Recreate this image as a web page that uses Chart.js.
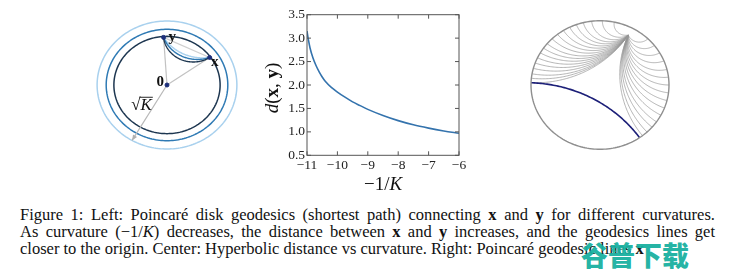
<!DOCTYPE html>
<html><head><meta charset="utf-8">
<script src="https://cdn.jsdelivr.net/npm/chart.js@4.4.1/dist/chart.umd.min.js"></script>
<style>
html,body{margin:0;padding:0;background:#fff;}
#page{position:relative;width:740px;height:278px;overflow:hidden;background:#fff;}
canvas{position:absolute;}
.cap{position:absolute;left:20px;width:695px;font-family:'Liberation Serif','Times New Roman',serif;font-size:16.5px;line-height:17px;color:#111;white-space:nowrap;}
.just{text-align:justify;text-align-last:justify;white-space:normal;}
.wm{position:absolute;left:581px;top:240px;font-family:'Noto Sans CJK SC',sans-serif;font-weight:900;font-size:27px;line-height:30px;color:rgba(24,176,160,0.95);}
</style></head>
<body><div id="page">
<canvas id="left" width="180" height="170" style="left:77px;top:0px"></canvas>
<canvas id="center" width="215" height="197" style="left:255px;top:0px"></canvas>
<canvas id="right" width="180" height="170" style="left:510px;top:0px"></canvas>
<div class="cap just" style="top:206px">Figure 1: Left: Poincaré disk geodesics (shortest path) connecting <b>x</b> and <b>y</b> for different curvatures.</div>
<div class="cap just" style="top:223px">As curvature (−1/<i>K</i>) decreases, the distance between <b>x</b> and <b>y</b> increases, and the geodesics lines get</div>
<div class="cap" style="top:240px">closer to the origin. Center: Hyperbolic distance vs curvature. Right: Poincaré geodesic lines <b>x</b></div>
<div class="wm">谷普下载</div>
</div>
<script>
// ===== Center panel data =====
const negInvK  = [-11, -10.95, -10.9, -10.8, -10.7, -10.6, -10.5, -10.4, -10.2, -10, -9.75, -9.5, -9.25, -9, -8.5, -8, -7.5, -7, -6.5, -6];
const distance = [3.15, 2.95, 2.79, 2.57, 2.41, 2.28, 2.17, 2.08, 1.95, 1.85, 1.74, 1.64, 1.56, 1.48, 1.35, 1.24, 1.15, 1.08, 1.02, 0.97];
const xTickValues = [-11, -10, -9, -8, -7, -6];
const yTickValues = [0.5, 1.0, 1.5, 2.0, 2.5, 3.0, 3.5];

// ===== Left panel data (disk units) =====
const diskRadii   = [0.76, 0.87, 1.0];         // sqrt(K) for three curvatures
const markLabels  = ['x', 'y', '0'];
const markX       = [0.61, -0.049, 0];
const markY       = [0.43, 0.744, 0];
const sqrtKAngle  = 240;                        // direction of the sqrt(K) radius arrow (deg)

// ===== Right panel data (disk units) =====
const sourcePoint = [0.41, 0.777];
const rayEndAngles = [178, 174, 170, 165, 160, 155, 150, 145, 140, 134, 128, 122, 116, 110, 104, 97, 88, 78,
                      46, 38, 30, 22, 14, 7, 0, -7, -14, -21, -28, -35, -41, -47, -52];
const highlightEnds = [178, -55];

const SERIF = "'Liberation Serif','Times New Roman',serif";
const diskColors = ['#1d3650', '#2f7ab4', '#a9d1ee'];

// ---------- helpers ----------
const TAU = Math.PI * 2, mod = v => ((v % TAU) + TAU) % TAU, rad = d => d * Math.PI / 180;
function circ3(a, b, c) {
  const d = 2 * (a[0]*(b[1]-c[1]) + b[0]*(c[1]-a[1]) + c[0]*(a[1]-b[1]));
  if (Math.abs(d) < 1e-10) return null;
  const a2 = a[0]*a[0]+a[1]*a[1], b2 = b[0]*b[0]+b[1]*b[1], c2 = c[0]*c[0]+c[1]*c[1];
  const ux = (a2*(b[1]-c[1]) + b2*(c[1]-a[1]) + c2*(a[1]-b[1])) / d;
  const uy = (a2*(c[0]-b[0]) + b2*(a[0]-c[0]) + c2*(b[0]-a[0])) / d;
  return {x: ux, y: uy, r: Math.hypot(a[0]-ux, a[1]-uy)};
}
function geodesic(p, q, R) {
  const n = p[0]*p[0] + p[1]*p[1];
  if (n < 1e-9) return [p, q];
  const ps = [R*R*p[0]/n, R*R*p[1]/n];
  const c = circ3(p, q, ps);
  if (!c) return [p, q];
  const ap = Math.atan2(p[1]-c.y, p[0]-c.x), aq = Math.atan2(q[1]-c.y, q[0]-c.x), as = Math.atan2(ps[1]-c.y, ps[0]-c.x);
  let span = mod(aq - ap); if (mod(as - ap) < span) span -= TAU;
  const pts = []; const N = 80;
  for (let i = 0; i <= N; i++) { const t = ap + span*i/N; pts.push([c.x + c.r*Math.cos(t), c.y + c.r*Math.sin(t)]); }
  return pts;
}
function boundaryGeodesic(t1, t2) {
  let a = rad(t1), b = rad(t2);
  let delta = mod(b - a); if (delta > Math.PI) { const s = a; a = b; b = s; delta = mod(b - a); }
  const m = a + delta/2, d = delta/2;
  const C = [Math.cos(m)/Math.cos(d), Math.sin(m)/Math.cos(d)], r = Math.tan(d);
  const q1 = [Math.cos(a), Math.sin(a)], q2 = [Math.cos(b), Math.sin(b)];
  const a1 = Math.atan2(q1[1]-C[1], q1[0]-C[0]), a2 = Math.atan2(q2[1]-C[1], q2[0]-C[0]);
  let span = mod(a2 - a1); if (span > Math.PI) span -= TAU;
  const pts = [];
  for (let i = 0; i <= 80; i++) { const t = a1 + span*i/80; pts.push([C[0] + r*Math.cos(t), C[1] + r*Math.sin(t)]); }
  return pts;
}
function circlePts(R) { const pts = []; for (let i = 0; i <= 200; i++) { const t = TAU*i/200; pts.push([R*Math.cos(t), R*Math.sin(t)]); } return pts; }
function strokePts(chart, pts, color, width) {
  const xs = chart.scales.x, ys = chart.scales.y, ctx = chart.ctx;
  ctx.save(); ctx.beginPath();
  pts.forEach((p, i) => { const X = xs.getPixelForValue(p[0]), Y = ys.getPixelForValue(p[1]); i ? ctx.lineTo(X, Y) : ctx.moveTo(X, Y); });
  ctx.strokeStyle = color; ctx.lineWidth = width; ctx.lineJoin = 'round'; ctx.stroke(); ctx.restore();
}
function drawMixed(ctx, parts, x, y) {
  let w = 0; parts.forEach(p => { ctx.font = p.f; w += ctx.measureText(p.t).width; });
  let cx = x - w/2;
  ctx.textAlign = 'left'; ctx.textBaseline = 'middle';
  parts.forEach(p => { ctx.font = p.f; ctx.fillText(p.t, cx, y); cx += ctx.measureText(p.t).width; });
}
const hiddenScales = (xr, yr) => ({
  x: {type: 'linear', display: false, min: -xr, max: xr},
  y: {type: 'linear', display: false, min: -yr, max: yr}
});

// ---------- Left panel ----------
new Chart(document.getElementById('left'), {
  type: 'scatter',
  data: {datasets: [{
    data: markX.map((v, i) => ({x: v, y: markY[i]})),
    pointRadius: 2, pointBackgroundColor: '#1d2f7a', pointBorderColor: '#1d2f7a', showLine: false
  }]},
  options: {
    responsive: false, animation: false, layout: {padding: 0},
    plugins: {legend: {display: false}, tooltip: {enabled: false}},
    scales: hiddenScales(90/74, 85/68)
  },
  plugins: [{
    id: 'leftDisk',
    beforeDatasetsDraw(chart) {
      const ctx = chart.ctx, xs = chart.scales.x, ys = chart.scales.y;
      for (let i = diskRadii.length - 1; i >= 0; i--) strokePts(chart, circlePts(diskRadii[i]), diskColors[i], 1.5);
      const P = [markX[0], markY[0]], Q = [markX[1], markY[1]], O = [markX[2], markY[2]];
      const tipR = diskRadii[2], tip = [tipR*Math.cos(rad(sqrtKAngle)), tipR*Math.sin(rad(sqrtKAngle))];
      strokePts(chart, [O, P], '#c2c2c2', 1.2);
      strokePts(chart, [O, Q], '#c2c2c2', 1.2);
      strokePts(chart, [P, Q], '#cfcfcf', 1.2);
      strokePts(chart, [O, tip], '#b8b8b8', 1.2);
      const tx = xs.getPixelForValue(tip[0]), ty = ys.getPixelForValue(tip[1]);
      const ox = xs.getPixelForValue(0), oy = ys.getPixelForValue(0);
      const ang = Math.atan2(ty - oy, tx - ox);
      ctx.save(); ctx.fillStyle = '#b0b0b0'; ctx.beginPath();
      ctx.moveTo(tx, ty);
      ctx.lineTo(tx - 6*Math.cos(ang - 0.4), ty - 6*Math.sin(ang - 0.4));
      ctx.lineTo(tx - 6*Math.cos(ang + 0.4), ty - 6*Math.sin(ang + 0.4));
      ctx.closePath(); ctx.fill(); ctx.restore();
      for (let i = diskRadii.length - 1; i >= 0; i--) strokePts(chart, geodesic(Q, P, diskRadii[i]), diskColors[i], 1.4);
    },
    afterDatasetsDraw(chart) {
      const ctx = chart.ctx, xs = chart.scales.x, ys = chart.scales.y;
      ctx.save(); ctx.fillStyle = '#111'; ctx.textAlign = 'center'; ctx.textBaseline = 'middle';
      const lab = [[0.682, 0.353], [0.074, 0.75], [-0.095, 0.051]];
      markLabels.forEach((t, i) => {
        ctx.font = 'bold 15px ' + SERIF;
        ctx.fillText(t, xs.getPixelForValue(lab[i][0]), ys.getPixelForValue(lab[i][1]));
      });
      const sx = xs.getPixelForValue(-0.365), sy = ys.getPixelForValue(-0.309);
      ctx.font = '17px ' + SERIF; const w1 = ctx.measureText('√').width;
      ctx.font = 'italic 17px ' + SERIF; const w2 = ctx.measureText('K').width;
      const x0 = sx - (w1 + w2)/2;
      ctx.textAlign = 'left';
      ctx.font = '17px ' + SERIF; ctx.fillText('√', x0, sy + 1);
      ctx.font = 'italic 17px ' + SERIF; ctx.fillText('K', x0 + w1, sy + 1);
      ctx.strokeStyle = '#111'; ctx.lineWidth = 0.9; ctx.beginPath();
      ctx.moveTo(x0 + w1 - 1, sy - 7.5); ctx.lineTo(x0 + w1 + w2 + 1, sy - 7.5); ctx.stroke();
      ctx.restore();
    }
  }]
});

// ---------- Center panel ----------
new Chart(document.getElementById('center'), {
  type: 'line',
  data: {datasets: [{
    data: negInvK.map((v, i) => ({x: v, y: distance[i]})),
    borderColor: '#3473ad', borderWidth: 1.6, pointRadius: 0, fill: false,
    cubicInterpolationMode: 'monotone'
  }]},
  options: {
    responsive: false, animation: false,
    layout: {padding: {left: 0, right: 11, top: 14.7, bottom: 0}},
    plugins: {legend: {display: false}, tooltip: {enabled: false}},
    scales: {
      x: {
        type: 'linear', min: -11, max: -6,
        grid: {display: false, drawTicks: false}, border: {display: false},
        afterBuildTicks: s => { s.ticks = xTickValues.map(v => ({value: v})); },
        afterFit: s => { s.height = 41.7; },
        ticks: {font: {family: SERIF, size: 13.5}, color: '#222', padding: 2, maxRotation: 0, autoSkip: false,
                callback: v => (v < 0 ? '−' : '') + Math.abs(v)}
      },
      y: {
        type: 'linear', min: 0.5, max: 3.5,
        grid: {display: false, drawTicks: false}, border: {display: false},
        afterBuildTicks: s => { s.ticks = yTickValues.map(v => ({value: v})); },
        afterFit: s => { s.width = 52; },
        ticks: {font: {family: SERIF, size: 13.5}, color: '#222', padding: 2, autoSkip: false,
                callback: v => Number(v).toFixed(1)}
      }
    }
  },
  plugins: [{
    id: 'frame',
    afterDraw(chart) {
      const ctx = chart.ctx, a = chart.chartArea, xs = chart.scales.x, ys = chart.scales.y;
      ctx.save();
      ctx.strokeStyle = '#555'; ctx.lineWidth = 1;
      ctx.strokeRect(a.left, a.top, a.right - a.left, a.bottom - a.top);
      ctx.beginPath();
      xs.ticks.forEach(t => { const X = xs.getPixelForValue(t.value);
        ctx.moveTo(X, a.bottom); ctx.lineTo(X, a.bottom - 4); ctx.moveTo(X, a.top); ctx.lineTo(X, a.top + 4); });
      ys.ticks.forEach(t => { const Y = ys.getPixelForValue(t.value);
        ctx.moveTo(a.left, Y); ctx.lineTo(a.left + 4, Y); ctx.moveTo(a.right, Y); ctx.lineTo(a.right - 4, Y); });
      ctx.stroke();
      ctx.fillStyle = '#111';
      drawMixed(ctx, [{t: '−1/', f: '19px ' + SERIF}, {t: 'K', f: 'italic 19px ' + SERIF}], (a.left + a.right)/2, 185);
      ctx.translate(18, (a.top + a.bottom)/2 + 3);
      ctx.rotate(-Math.PI/2);
      drawMixed(ctx, [{t: 'd', f: 'italic 19px ' + SERIF}, {t: '(', f: '19px ' + SERIF}, {t: 'x', f: 'bold 19px ' + SERIF},
                      {t: ', ', f: '19px ' + SERIF}, {t: 'y', f: 'bold 19px ' + SERIF}, {t: ')', f: '19px ' + SERIF}], 0, 0);
      ctx.restore();
    }
  }]
});

// ---------- Right panel ----------
new Chart(document.getElementById('right'), {
  type: 'scatter',
  data: {datasets: [{data: [], showLine: false}]},
  options: {
    responsive: false, animation: false, layout: {padding: 0},
    plugins: {legend: {display: false}, tooltip: {enabled: false}},
    scales: hiddenScales(90/69, 85/64.3)
  },
  plugins: [{
    id: 'rightDisk',
    beforeDatasetsDraw(chart) {
      rayEndAngles.forEach(t => {
        strokePts(chart, geodesic(sourcePoint, [Math.cos(rad(t)), Math.sin(rad(t))], 1), 'rgba(150,150,150,0.7)', 1);
      });
      strokePts(chart, boundaryGeodesic(highlightEnds[0], highlightEnds[1]), '#1c1f78', 1.6);
      strokePts(chart, circlePts(1), '#8f8f8f', 1.4);
    }
  }]
});
</script>
</body></html>
